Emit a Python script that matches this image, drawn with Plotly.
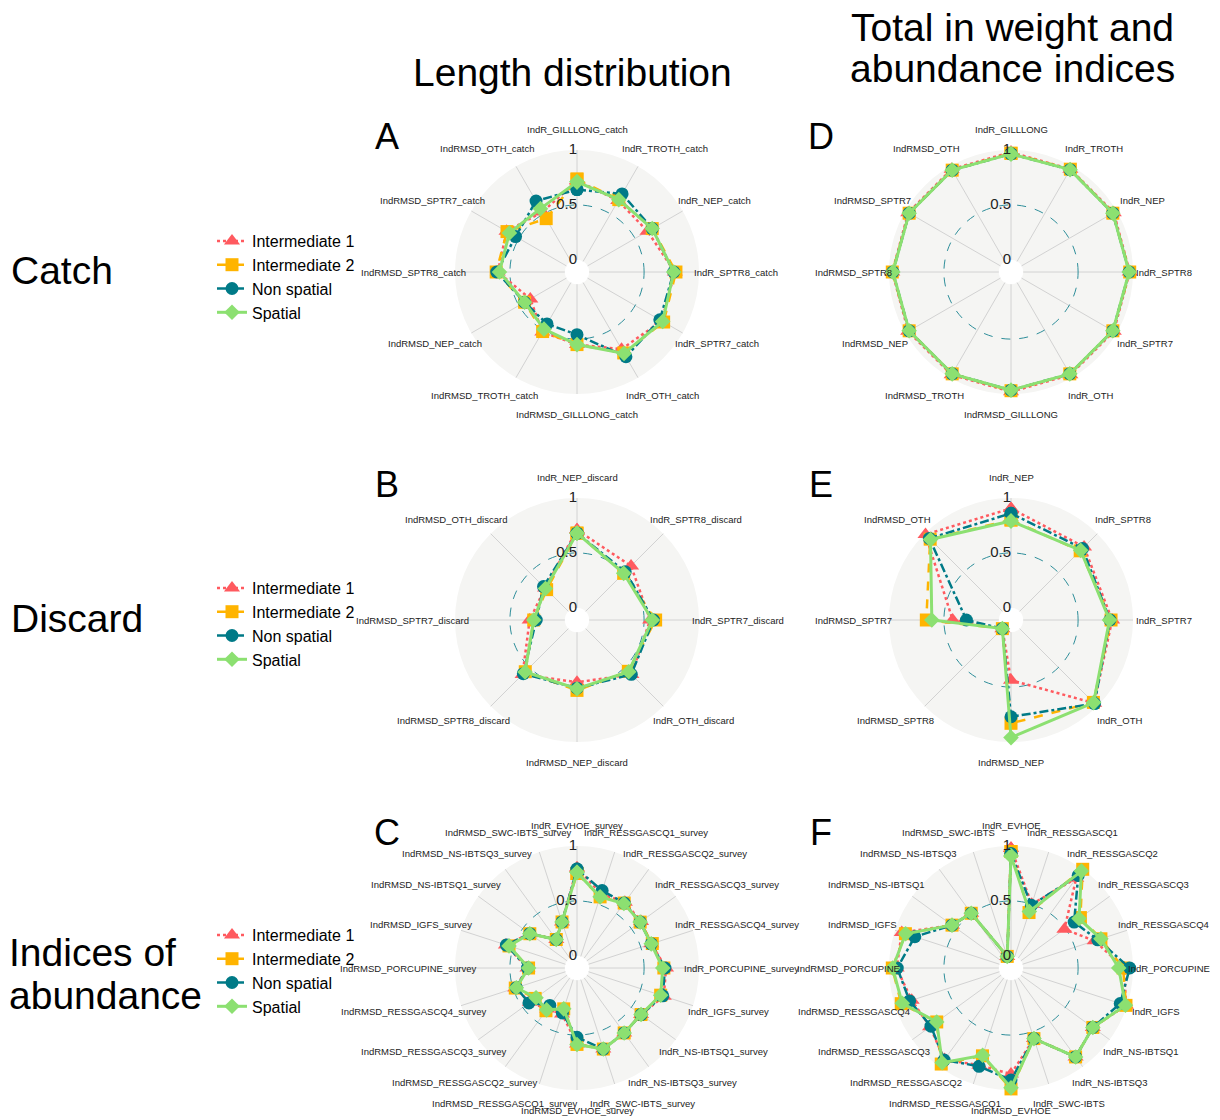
import math
import plotly.graph_objects as go

FONT = "Liberation Sans, Arial, sans-serif"

series_names = ["Intermediate 1", "Intermediate 2", "Non spatial", "Spatial"]
series_colors = ["#FF5A5F", "#FFB400", "#007A87", "#8CE071"]
series_dash = ["dot", "dash", "dashdot", "solid"]
series_symbols = ["triangle-up", "square", "circle", "diamond"]
series_sizes = [14, 13, 13, 12]

# ---------------- Panel A : catch, length distribution ----------------
A_cats = ["IndR_GILLLONG_catch", "IndR_TROTH_catch", "IndR_NEP_catch", "IndR_SPTR8_catch",
          "IndR_SPTR7_catch", "IndR_OTH_catch", "IndRMSD_GILLLONG_catch", "IndRMSD_TROTH_catch",
          "IndRMSD_NEP_catch", "IndRMSD_SPTR8_catch", "IndRMSD_SPTR7_catch", "IndRMSD_OTH_catch"]
A_int1 = [0.72, 0.64, 0.63, 0.78, 0.78, 0.70, 0.55, 0.52, 0.38, 0.61, 0.63, 0.52]
A_int2 = [0.735, 0.65, 0.68, 0.79, 0.80, 0.74, 0.55, 0.515, 0.44, 0.625, 0.625, 0.45]
A_nons = [0.64, 0.71, 0.68, 0.77, 0.76, 0.78, 0.46, 0.435, 0.44, 0.62, 0.535, 0.635]
A_spat = [0.71, 0.65, 0.68, 0.77, 0.79, 0.745, 0.55, 0.49, 0.44, 0.595, 0.60, 0.555]

# ---------------- Panel B : discard, length distribution ----------------
B_cats = ["IndR_NEP_discard", "IndR_SPTR8_discard", "IndR_SPTR7_discard", "IndR_OTH_discard",
          "IndRMSD_NEP_discard", "IndRMSD_SPTR8_discard", "IndRMSD_SPTR7_discard", "IndRMSD_OTH_discard"]
B_int1 = [0.71, 0.585, 0.555, 0.59, 0.456, 0.59, 0.32, 0.30]
B_int2 = [0.68, 0.49, 0.605, 0.55, 0.53, 0.555, 0.283, 0.28]
B_nons = [0.68, 0.51, 0.585, 0.588, 0.51, 0.58, 0.26, 0.32]
B_spat = [0.68, 0.49, 0.575, 0.555, 0.515, 0.558, 0.283, 0.295]

# ---------------- Panel C : survey, length distribution ----------------
C_cats = ["IndR_EVHOE_survey", "IndR_RESSGASCQ1_survey", "IndR_RESSGASCQ2_survey", "IndR_RESSGASCQ3_survey",
          "IndR_RESSGASCQ4_survey", "IndR_PORCUPINE_survey", "IndR_IGFS_survey", "IndR_NS-IBTSQ1_survey",
          "IndR_NS-IBTSQ3_survey", "IndR_SWC-IBTS_survey", "IndRMSD_EVHOE_survey", "IndRMSD_RESSGASCQ1_survey",
          "IndRMSD_RESSGASCQ2_survey", "IndRMSD_RESSGASCQ3_survey", "IndRMSD_RESSGASCQ4_survey",
          "IndRMSD_PORCUPINE_survey", "IndRMSD_IGFS_survey", "IndRMSD_NS-IBTSQ1_survey",
          "IndRMSD_NS-IBTSQ3_survey", "IndRMSD_SWC-IBTS_survey"]
C_int1 = [0.80, 0.60, 0.63, 0.61, 0.60, 0.70, 0.72, 0.61, 0.62, 0.665, 0.58, 0.33, 0.35, 0.42, 0.48, 0.34, 0.57, 0.42, 0.21, 0.33]
C_int2 = [0.75, 0.57, 0.62, 0.60, 0.61, 0.68, 0.69, 0.61, 0.62, 0.665, 0.585, 0.28, 0.37, 0.36, 0.48, 0.33, 0.54, 0.42, 0.21, 0.33]
C_nons = [0.79, 0.63, 0.62, 0.60, 0.60, 0.69, 0.71, 0.61, 0.62, 0.665, 0.52, 0.32, 0.31, 0.43, 0.47, 0.34, 0.565, 0.42, 0.21, 0.33]
C_spat = [0.76, 0.57, 0.615, 0.60, 0.60, 0.67, 0.69, 0.61, 0.62, 0.665, 0.585, 0.28, 0.36, 0.35, 0.47, 0.33, 0.54, 0.42, 0.21, 0.33]

# ---------------- Panel D : catch, totals ----------------
D_cats = ["IndR_GILLLONG", "IndR_TROTH", "IndR_NEP", "IndR_SPTR8", "IndR_SPTR7", "IndR_OTH",
          "IndRMSD_GILLLONG", "IndRMSD_TROTH", "IndRMSD_NEP", "IndRMSD_SPTR8", "IndRMSD_SPTR7", "IndRMSD_OTH"]
D_int1 = [0.98, 0.97, 0.97, 0.97, 0.97, 0.97, 0.98, 0.97, 0.97, 0.97, 0.97, 0.97]
D_int2 = [0.97, 0.97, 0.96, 0.97, 0.96, 0.96, 0.97, 0.96, 0.96, 0.97, 0.96, 0.96]
D_nons = [0.965, 0.965, 0.96, 0.965, 0.96, 0.96, 0.965, 0.96, 0.96, 0.965, 0.96, 0.96]
D_spat = [0.965, 0.965, 0.96, 0.965, 0.96, 0.96, 0.965, 0.96, 0.96, 0.965, 0.96, 0.96]

# ---------------- Panel E : discard, totals ----------------
E_cats = ["IndR_NEP", "IndR_SPTR8", "IndR_SPTR7", "IndR_OTH",
          "IndRMSD_NEP", "IndRMSD_SPTR8", "IndRMSD_SPTR7", "IndRMSD_OTH"]
E_int1 = [0.905, 0.83, 0.81, 0.96, 0.437, 0.0, 0.42, 0.99]
E_int2 = [0.80, 0.78, 0.80, 0.95, 0.83, 0.0, 0.66, 0.93]
E_nons = [0.86, 0.81, 0.79, 0.965, 0.77, 0.0, 0.295, 0.94]
E_spat = [0.79, 0.786, 0.786, 0.953, 0.96, 0.0, 0.61, 0.926]

# ---------------- Panel F : survey, totals ----------------
F_cats = ["IndR_EVHOE", "IndR_RESSGASCQ1", "IndR_RESSGASCQ2", "IndR_RESSGASCQ3", "IndR_RESSGASCQ4",
          "IndR_PORCUPINE", "IndR_IGFS", "IndR_NS-IBTSQ1", "IndR_NS-IBTSQ3", "IndR_SWC-IBTS",
          "IndRMSD_EVHOE", "IndRMSD_RESSGASCQ1", "IndRMSD_RESSGASCQ2", "IndRMSD_RESSGASCQ3",
          "IndRMSD_RESSGASCQ4", "IndRMSD_PORCUPINE", "IndRMSD_IGFS", "IndRMSD_NS-IBTSQ1",
          "IndRMSD_NS-IBTSQ3", "IndRMSD_SWC-IBTS"]
F_int1 = [0.98, 0.50, 0.90, 0.49, 0.69, 0.92, 0.99, 0.81, 0.89, 0.565, 0.855, 0.82, 0.92, 0.80, 0.84, 0.93, 0.935, 0.553, 0.505, 0.0]
F_int2 = [0.95, 0.42, 1.00, 0.67, 0.75, 0.91, 0.99, 0.81, 0.89, 0.565, 0.99, 0.73, 0.97, 0.725, 0.94, 0.97, 0.90, 0.553, 0.505, 0.0]
F_nons = [0.93, 0.49, 0.93, 0.60, 0.72, 0.97, 0.935, 0.81, 0.89, 0.565, 0.91, 0.83, 0.925, 0.79, 0.86, 0.925, 0.81, 0.553, 0.505, 0.0]
F_spat = [0.91, 0.43, 0.98, 0.655, 0.75, 0.87, 0.985, 0.81, 0.89, 0.565, 0.98, 0.725, 0.955, 0.725, 0.93, 0.967, 0.898, 0.553, 0.505, 0.0]

radial_tick_labels = ["0", "0.5", "1"]
radial_tick_values = [0, 0.5, 1]

panels = [
    ("A", A_cats, [A_int1, A_int2, A_nons, A_spat], 0, 0, "legend"),
    ("B", B_cats, [B_int1, B_int2, B_nons, B_spat], 0, 1, "legend2"),
    ("C", C_cats, [C_int1, C_int2, C_nons, C_spat], 0, 2, "legend3"),
    ("D", D_cats, [D_int1, D_int2, D_nons, D_spat], 1, 0, None),
    ("E", E_cats, [E_int1, E_int2, E_nons, E_spat], 1, 1, None),
    ("F", F_cats, [F_int1, F_int2, F_nons, F_spat], 1, 2, None),
]

W, H = 1220, 1120
col_cx = [577, 1011]
row_cy = [272, 620, 968]
RAD = 122
HOLE = 0.1
LABEL_FS = 9.5
LABEL_OFFSET = 1.165  # axis-label distance, as a fraction of the outer radius

# approximate Arial advance widths (em) used to place axis labels like ggradar (hjust 0.3 / 0.5 / 0.7)
_narrow = {"I": 0.278, "i": 0.222, "l": 0.222, "t": 0.278, "r": 0.333, "-": 0.333, "f": 0.278, "j": 0.222}
_wide = {"M": 0.833, "W": 0.944, "m": 0.833, "w": 0.722, "_": 0.556}


def text_width(s, size):
    w = 0.0
    for ch in s:
        if ch in _narrow:
            w += _narrow[ch]
        elif ch in _wide:
            w += _wide[ch]
        elif ch.isupper():
            w += 0.68
        else:
            w += 0.556
    return w * size


fig = go.Figure()
layout = dict()
annotations = []

for k, (letter, cats, series, col, row, leg) in enumerate(panels):
    bg = "polar" if k == 0 else f"polar{2 * k + 1}"
    fg = f"polar{2 * k + 2}"
    cx, cy = col_cx[col], row_cy[row]
    dom = dict(x=[(cx - RAD) / W, (cx + RAD) / W], y=[1 - (cy + RAD) / H, 1 - (cy - RAD) / H])
    n = len(cats)

    layout[bg] = dict(
        domain=dom, hole=HOLE, bgcolor="#F5F5F3",
        radialaxis=dict(range=[0, 1], tickvals=[0, 1], showticklabels=False, ticks="",
                        showgrid=True, gridcolor="#ABABAB", griddash="dash", gridwidth=1, showline=False),
        angularaxis=dict(type="linear", tickmode="linear", tick0=0, dtick=360 / n, showticklabels=False,
                         ticks="", showgrid=True, gridcolor="#D2D2D2", gridwidth=1, showline=False,
                         rotation=90, direction="clockwise"),
    )
    layout[fg] = dict(
        domain=dom, hole=HOLE, bgcolor="rgba(0,0,0,0)",
        radialaxis=dict(range=[0, 1], tickvals=[0.5], showticklabels=False, ticks="",
                        showgrid=True, gridcolor="#2E8E9A", griddash="dash", gridwidth=1, showline=False),
        angularaxis=dict(type="category", categoryorder="array", categoryarray=cats,
                         rotation=90, direction="clockwise", showgrid=False, showline=False, ticks="",
                         showticklabels=False),
    )

    # invisible trace so the background subplot is rendered
    fig.add_trace(go.Scatterpolar(r=[0], theta=[0], mode="markers", marker=dict(opacity=0),
                                  subplot=bg, showlegend=False, hoverinfo="skip"))

    for s, vals in enumerate(series):
        fig.add_trace(go.Scatterpolar(
            r=list(vals) + [vals[0]], theta=list(cats) + [cats[0]],
            mode="lines+markers", name=series_names[s], subplot=fg,
            line=dict(color=series_colors[s], dash=series_dash[s], width=3 if s == 3 else 2.5),
            marker=dict(symbol=series_symbols[s], size=series_sizes[s], color=series_colors[s]),
            cliponaxis=False,
            showlegend=leg is not None, legend=leg if leg else "legend",
        ))

    fig.add_trace(go.Scatterpolar(
        r=radial_tick_values, theta=[cats[0]] * 3, mode="text", text=radial_tick_labels,
        textposition="middle left", textfont=dict(family=FONT, size=15, color="#222222"),
        subplot=fg, showlegend=False, hoverinfo="skip", cliponaxis=False))

    # axis (category) labels placed around the circle, ggradar style
    for i, c in enumerate(cats):
        ang = math.radians(i * 360.0 / n)
        sn, co = math.sin(ang), math.cos(ang)
        hj = 0.5 if abs(sn) < 1e-6 else (0.3 if sn > 0 else 0.7)
        w = text_width(c, LABEL_FS)
        px = LABEL_OFFSET * RAD * sn + (0.5 - hj) * w
        py = LABEL_OFFSET * RAD * co
        annotations.append(dict(text=c, x=(cx + px) / W, y=1 - (cy - py) / H, xref="paper", yref="paper",
                                xanchor="center", yanchor="middle", showarrow=False,
                                font=dict(family=FONT, size=LABEL_FS, color="#222222")))

    annotations.append(dict(text=letter, x=(cx - 190) / W, y=1 - (cy - 136) / H, xref="paper", yref="paper",
                            xanchor="center", yanchor="middle", showarrow=False,
                            font=dict(family=FONT, size=36, color="black")))

big_texts = [
    dict(text="Length distribution", x=572 / W, y=1 - 73 / H, xanchor="center", yanchor="middle"),
    dict(text="Total in weight and", x=1012 / W, y=1 - 27 / H, xanchor="center", yanchor="middle"),
    dict(text="abundance indices", x=1012 / W, y=1 - 68 / H, xanchor="center", yanchor="middle"),
    dict(text="Catch", x=9 / W, y=1 - 270 / H, xanchor="left", yanchor="middle"),
    dict(text="Discard", x=9 / W, y=1 - 618 / H, xanchor="left", yanchor="middle"),
    dict(text="Indices of", x=7 / W, y=1 - 952 / H, xanchor="left", yanchor="middle"),
    dict(text="abundance", x=7 / W, y=1 - 995 / H, xanchor="left", yanchor="middle"),
]
for a in big_texts:
    a.update(xref="paper", yref="paper", showarrow=False, font=dict(family=FONT, size=39, color="black"))
annotations += big_texts

legend_common = dict(xanchor="left", yanchor="top", font=dict(family=FONT, size=16, color="black"),
                     bgcolor="white", tracegroupgap=0, itemwidth=30)
layout["legend"] = dict(x=212 / W, y=1 - 224 / H, **legend_common)
layout["legend2"] = dict(x=212 / W, y=1 - 571 / H, **legend_common)
layout["legend3"] = dict(x=212 / W, y=1 - 918 / H, **legend_common)

fig.update_layout(
    width=W, height=H, margin=dict(l=0, r=0, t=0, b=0),
    paper_bgcolor="white", plot_bgcolor="white",
    font=dict(family=FONT, color="black"),
    annotations=annotations,
    **layout,
)

fig.write_html("out.html", config={"displayModeBar": False},
               post_script="document.body.style.margin='0';")
